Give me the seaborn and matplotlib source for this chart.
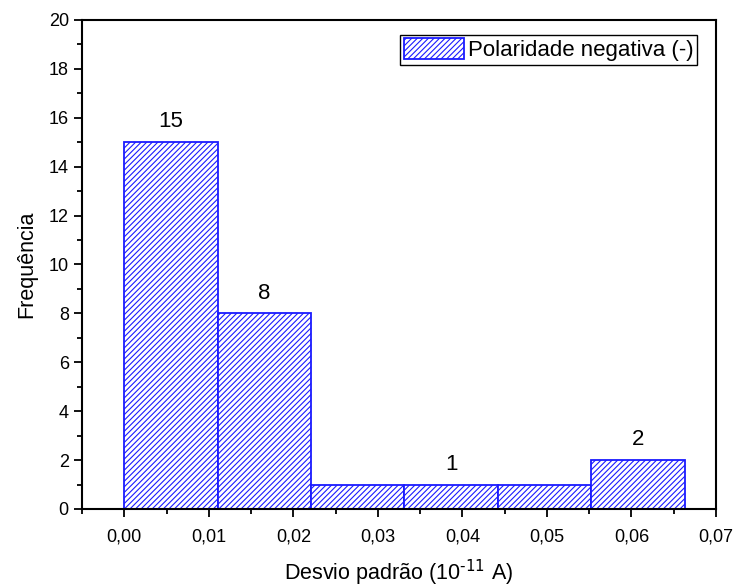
import numpy as np
import pandas as pd
import seaborn as sns
import matplotlib
matplotlib.use("Agg")
import matplotlib.pyplot as plt
from matplotlib.ticker import MultipleLocator, FuncFormatter

# histogram bins (desvio padrão, 10^-11 A) and counts
bin_edges = [0.0, 0.01105, 0.0221, 0.03315, 0.0442, 0.05525, 0.0663]
counts = [15, 8, 1, 1, 1, 2]
# bars that get a count label on top
labelled = [0, 1, 3, 5]

sns.set_style("ticks")
plt.rcParams['font.family'] = ['Liberation Sans', 'DejaVu Sans']
plt.rcParams['hatch.linewidth'] = 0.8
plt.rcParams['text.color'] = 'black'
plt.rcParams['axes.labelcolor'] = 'black'
plt.rcParams['xtick.color'] = 'black'
plt.rcParams['ytick.color'] = 'black'
plt.rcParams['mathtext.default'] = 'regular'

centers = [(a + b) / 2 for a, b in zip(bin_edges[:-1], bin_edges[1:])]
df = pd.DataFrame({"desvio": centers, "n": counts})

fig = plt.figure(figsize=(7.36, 5.87), dpi=100)
ax = fig.add_axes([0.1114, 0.1329, 0.8614, 0.8331])

sns.histplot(data=df, x="desvio", weights="n", bins=bin_edges, ax=ax,
             color="white", edgecolor="#1a1aff", linewidth=1.3, hatch="//////",
             alpha=1, label="Polaridade negativa (-)")

for i in labelled:
    ax.text(centers[i], counts[i] + 0.4, str(counts[i]), ha="center",
            va="bottom", fontsize=16)

ax.set_xlim(-0.005, 0.07)
ax.set_ylim(0, 20)
ax.xaxis.set_major_locator(MultipleLocator(0.01))
ax.xaxis.set_minor_locator(MultipleLocator(0.005))
ax.yaxis.set_major_locator(MultipleLocator(2))
ax.yaxis.set_minor_locator(MultipleLocator(1))
ax.xaxis.set_major_formatter(FuncFormatter(lambda v, p: f"{v:.2f}".replace(".", ",")))
ax.tick_params(which="major", length=6, width=1.3, labelsize=13)
ax.tick_params(axis="x", which="major", pad=8)
ax.tick_params(which="minor", length=3.5, width=1.3)
for s in ax.spines.values():
    s.set_linewidth(1.5)
    s.set_color("black")

ax.set_xlabel(r"Desvio padrão (10$^{\text{-11}}$ A)", fontsize=15.5, labelpad=9)
ax.set_ylabel("Frequência", fontsize=15.5, labelpad=8)

leg = ax.legend(loc="upper right", bbox_to_anchor=(0.97, 0.97), fontsize=16,
                fancybox=False, edgecolor="black", framealpha=1,
                handlelength=2.7, handleheight=1.1, handletextpad=0.2,
                borderpad=0.15, borderaxespad=0.0)
leg.get_frame().set_linewidth(1.0)

fig.savefig("out.png", dpi=100)
